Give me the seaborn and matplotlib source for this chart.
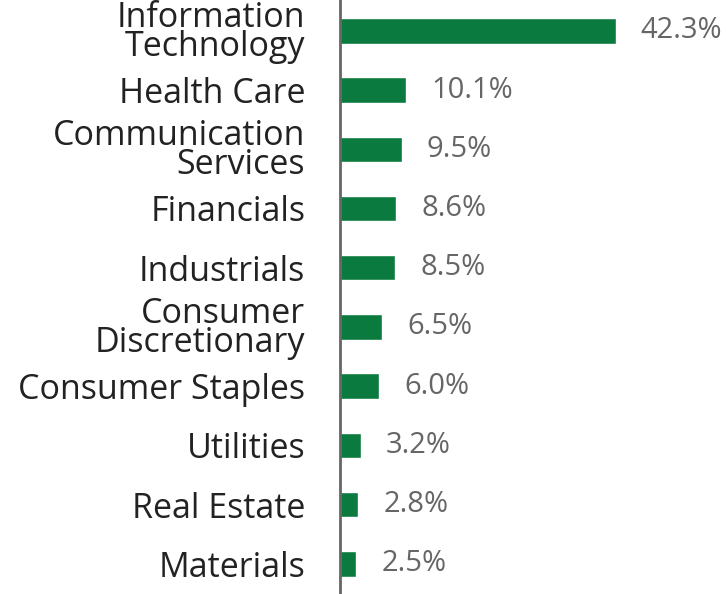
import matplotlib
matplotlib.use("Agg")
import matplotlib.pyplot as plt
import seaborn as sns
import pandas as pd

categories = ["Information\nTechnology", "Health Care", "Communication\nServices",
              "Financials", "Industrials", "Consumer\nDiscretionary",
              "Consumer Staples", "Utilities", "Real Estate", "Materials"]
values = [42.3, 10.1, 9.5, 8.6, 8.5, 6.5, 6.0, 3.2, 2.8, 2.5]
value_labels = ["42.3%", "10.1%", "9.5%", "8.6%", "8.5%", "6.5%", "6.0%", "3.2%", "2.8%", "2.5%"]

sns.set_theme(style="white")
plt.rcParams['font.family'] = ['Open Sans', 'DejaVu Sans']

df = pd.DataFrame({"cat": categories, "val": values})

fig = plt.figure(figsize=(7.26, 5.94), dpi=100)
ax = fig.add_axes([340/726, 0, 386/726, 1])
sns.barplot(data=df, x="val", y="cat", orient="h", color="#0b7a3e",
            saturation=1, width=0.43, ax=ax)

ax.set_xlim(0, 59.2)
ax.set_ylim(9.51, -0.52)
ax.set_xlabel("")
ax.set_ylabel("")
ax.set_xticks([])
for s in ["top", "right", "bottom"]:
    ax.spines[s].set_visible(False)
ax.spines["left"].set_color("#666666")
ax.spines["left"].set_linewidth(2)
ax.tick_params(axis="y", length=0, pad=25)
for lbl in ax.get_yticklabels():
    lbl.set_fontsize(24.5)
    lbl.set_color("#222222")
    lbl.set_linespacing(0.8)

for i, (v, t) in enumerate(zip(values, value_labels)):
    ax.annotate(t, xy=(v, i), xytext=(18, 0), textcoords="offset points",
                va="center", ha="left", fontsize=21, color="#666666")

fig.savefig("out.png", dpi=100)
